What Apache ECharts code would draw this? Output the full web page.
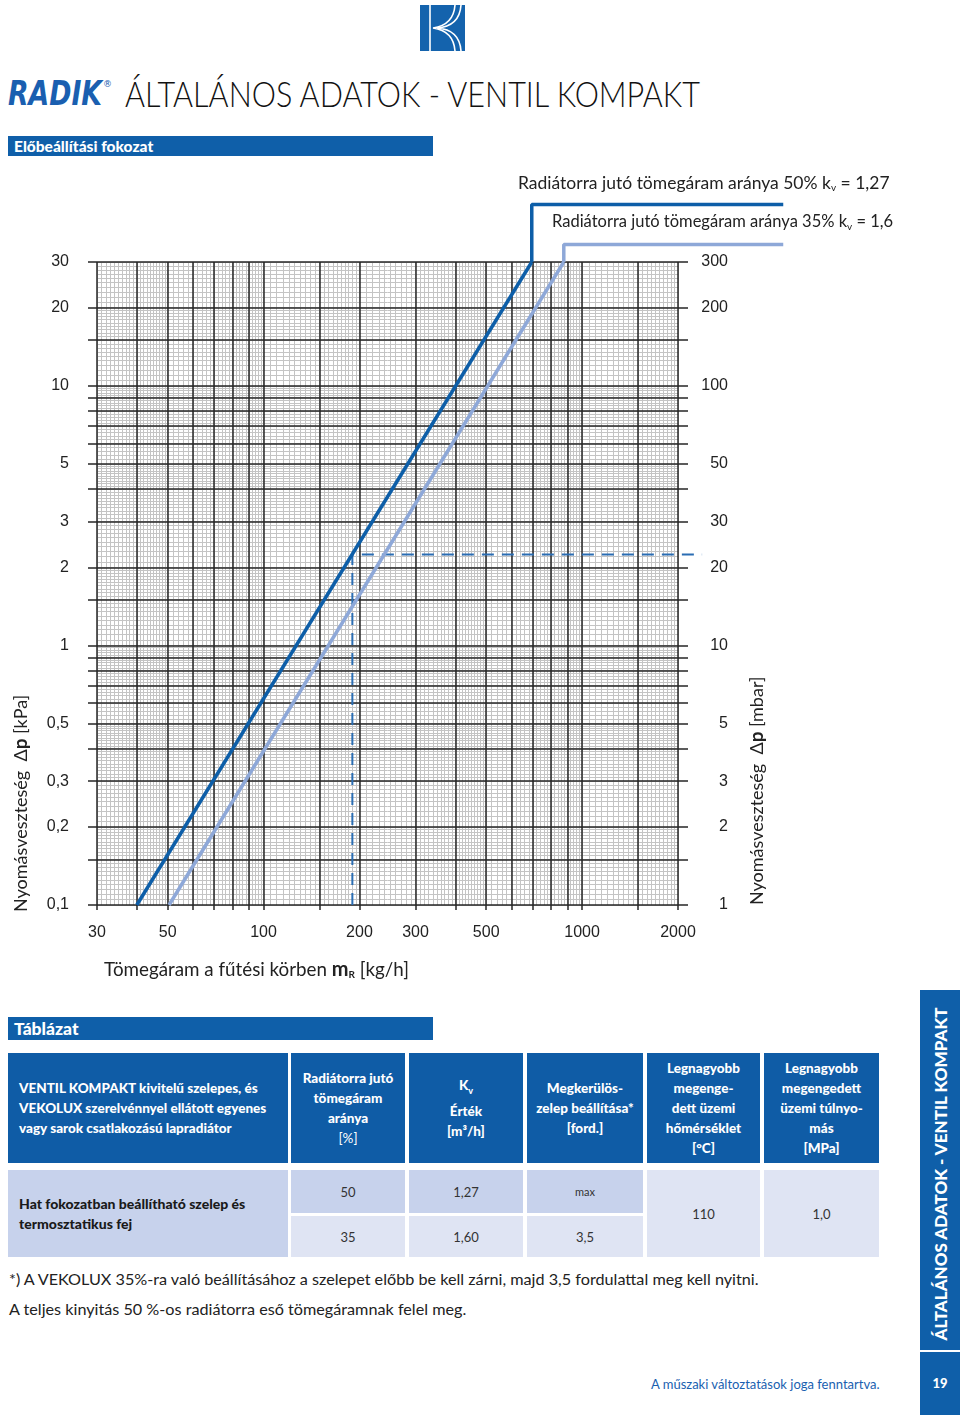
<!DOCTYPE html>
<html>
<head>
<meta charset="utf-8">
<script src="https://cdn.jsdelivr.net/npm/echarts@6.0.0/dist/echarts.min.js"></script>
<style>
  body { margin: 0; width: 960px; height: 1415px; position: relative; background: #fff; overflow: hidden;
         font-family: Lato, "Noto Sans", sans-serif; color: #222; }
  .abs { position: absolute; }
  #chart { position: absolute; left: 0; top: 0; width: 960px; height: 1000px; }
  .bar { background: #0f5fa9; color: #fff; font-weight: 900; }
  .hd { background: #0f5ca6; color: #fff; font-weight: 900; font-size: 13.5px; line-height: 20px;
        display: flex; flex-direction: column; justify-content: center; text-align: center; }
  .bd { display: flex; flex-direction: column; justify-content: center; text-align: center; font-size: 13px; color: #333; }
  .dk { background: #c7d2ec; }
  .lt { background: #dfe4f3; }
</style>
</head>
<body>
<!-- logo -->
<svg class="abs" style="left:420px;top:5px" width="45" height="46" viewBox="0 0 45 46">
  <rect x="0" y="0" width="45" height="46" fill="#1463ad"/>
  <line x1="10" y1="0" x2="10" y2="46" stroke="#fff" stroke-width="1.6"/>
  <path d="M35 0 C34 14 27 21 13 23 C27 25 34 32 35 46" fill="none" stroke="#fff" stroke-width="1.6"/>
  <path d="M41 0 C40 15 31 22 17 23 C31 24 40 31 41 46" fill="none" stroke="#fff" stroke-width="1.6"/>
</svg>
<svg class="abs" style="left:0;top:60px" width="960" height="60">
  <text x="8" y="45" textLength="94" lengthAdjust="spacingAndGlyphs" font-family="DejaVu Sans" font-weight="bold" font-style="italic" font-size="34" fill="#1a5fb0">RADIK</text>
  <text x="103" y="27" font-family="DejaVu Sans" font-size="9" fill="#1a5fb0">®</text>
  <text x="125" y="47" textLength="575" lengthAdjust="spacingAndGlyphs" font-family="Lato" font-weight="300" font-size="36" fill="#111">ÁLTALÁNOS ADATOK - VENTIL KOMPAKT</text>
</svg>
<div class="abs bar" style="left:8px;top:136px;width:425px;height:20px;font-size:15.5px;line-height:20px;padding-left:6px;box-sizing:border-box">Előbeállítási fokozat</div>

<div id="chart"></div>

<div class="abs bar" style="left:8px;top:1017px;width:425px;height:23px;font-size:17.5px;line-height:23px;padding-left:6px;box-sizing:border-box">Táblázat</div>

<!-- table header -->
<div class="abs hd" style="left:8px;top:1053px;width:280px;height:110px;text-align:left;padding-left:11px;box-sizing:border-box">
  <div>VENTIL KOMPAKT kivitelű szelepes, és</div><div>VEKOLUX szerelvénnyel ellátott egyenes</div><div>vagy sarok csatlakozású lapradiátor</div></div>
<div class="abs hd" style="left:291px;top:1053px;width:114px;height:110px">
  <div>Radiátorra jutó</div><div>tömegáram</div><div>aránya</div><div style="font-weight:normal">[%]</div></div>
<div class="abs hd" style="left:409px;top:1053px;width:114px;height:110px">
  <div>K<sub style="font-size:9px">v</sub></div><div>Érték</div><div>[m³/h]</div></div>
<div class="abs hd" style="left:527px;top:1053px;width:116px;height:110px">
  <div>Megkerülös-</div><div>zelep beállítása*</div><div>[ford.]</div></div>
<div class="abs hd" style="left:647px;top:1053px;width:113px;height:110px">
  <div>Legnagyobb</div><div>megenge-</div><div>dett üzemi</div><div>hőmérséklet</div><div>[°C]</div></div>
<div class="abs hd" style="left:764px;top:1053px;width:115px;height:110px">
  <div>Legnagyobb</div><div>megengedett</div><div>üzemi túlnyo-</div><div>más</div><div>[MPa]</div></div>
<!-- table body -->
<div class="abs bd dk" style="left:8px;top:1170px;width:280px;height:87px;text-align:left;padding-left:11px;box-sizing:border-box;font-weight:900;font-size:14px;color:#1a1a1a;line-height:20px">
  <div>Hat fokozatban beállítható szelep és</div><div>termosztatikus fej</div></div>
<div class="abs bd dk" style="left:291px;top:1170px;width:114px;height:43px">50</div>
<div class="abs bd dk" style="left:409px;top:1170px;width:114px;height:43px">1,27</div>
<div class="abs bd dk" style="left:527px;top:1170px;width:116px;height:43px;font-size:11px">max</div>
<div class="abs bd lt" style="left:291px;top:1216px;width:114px;height:41px">35</div>
<div class="abs bd lt" style="left:409px;top:1216px;width:114px;height:41px">1,60</div>
<div class="abs bd lt" style="left:527px;top:1216px;width:116px;height:41px">3,5</div>
<div class="abs bd lt" style="left:647px;top:1170px;width:113px;height:87px">110</div>
<div class="abs bd lt" style="left:764px;top:1170px;width:115px;height:87px">1,0</div>

<div class="abs" style="left:9px;top:1269px;font-size:16.2px;white-space:nowrap">*) A VEKOLUX 35%-ra való beállításához a szelepet előbb be kell zárni, majd 3,5 fordulattal meg kell nyitni.</div>
<div class="abs" style="left:9px;top:1299px;font-size:16.2px;white-space:nowrap">A teljes kinyitás 50 %-os radiátorra eső tömegáramnak felel meg.</div>

<!-- side banner -->
<div class="abs" style="left:920px;top:990px;width:40px;height:360px;background:#0f5fa9"></div>
<div class="abs" style="left:940px;top:1174px;width:0;height:0">
  <div style="position:absolute;left:0;top:0;transform:translate(-50%,-50%) rotate(-90deg);white-space:nowrap;color:#fff;font-weight:900;font-size:17px">ÁLTALÁNOS ADATOK - VENTIL KOMPAKT</div></div>
<div class="abs" style="left:920px;top:1352px;width:40px;height:63px;background:#0f5fa9;color:#fff;font-weight:900;font-size:13px;text-align:center;line-height:63px">19</div>
<div class="abs" style="left:651px;top:1376px;font-size:13px;color:#1a5fb0;white-space:nowrap">A műszaki változtatások joga fenntartva.</div>

<script>
// tömegáram [kg/h] grid and labels
var xMajor = [30, 40, 50, 60, 70, 80, 90, 100, 150, 200, 300, 400, 500, 600, 700, 800, 900, 1000, 1500, 2000];
var xLabels = [30, 50, 100, 200, 300, 500, 1000, 2000];
// nyomásveszteség [kPa]
var yMajor = [0.1, 0.15, 0.2, 0.3, 0.4, 0.5, 0.6, 0.7, 0.8, 0.9, 1, 1.5, 2, 3, 4, 5, 6, 7, 8, 9, 10, 15, 20, 30];
var yLabels = [0.1, 0.2, 0.3, 0.5, 1, 2, 3, 5, 10, 20, 30];
// nyomásveszteség [mbar]
var yMajorMbar = [1, 1.5, 2, 3, 4, 5, 6, 7, 8, 9, 10, 15, 20, 30, 40, 50, 60, 70, 80, 90, 100, 150, 200, 300];
var yLabelsMbar = [1, 2, 3, 5, 10, 20, 30, 50, 100, 200, 300];

// curves: 50% kv=1,27 and 35% kv=1,6
var flow50 = [40, 695];
var dp50 = [0.1, 30];
var flow35 = [50.5, 876];
var dp35 = [0.1, 30];
// leader lines to the captions (run past the paper grid)
var lead50 = [[695, 30], [695, 50], [4280, 50]];
var lead35 = [[876, 30], [876, 35], [4280, 35]];
// reading example (dashed)
var example = [[190, 0.1], [190, 2.24], [2380, 2.24]];

// fine millimetre-like grid lines per decade
function fine(decades, lo, hi) {
  var out = [];
  decades.forEach(function (d) {
    var steps = [[1, 2, 0.05], [2, 5, 0.1], [5, 10, 0.2]];
    steps.forEach(function (s) {
      for (var v = s[0]; v < s[1] - 1e-9; v += s[2]) {
        var val = Math.round(v * d * 10000) / 10000;
        if (val >= lo && val <= hi) out.push(val);
      }
    });
  });
  return out;
}
var xFine = fine([10, 100, 1000], 30, 2000);
var yFine = fine([0.1, 1, 10], 0.1, 30);

// plot box and the same scale extended so lines can leave the paper grid
var G = { left: 97, top: 262, width: 581, height: 643 };
var pxPerDecX = G.width / Math.log10(2000 / 30);
var pxPerDecY = G.height / Math.log10(30 / 0.1);
var wide = { left: G.left, width: pxPerDecX * Math.log10(5000 / 30),
             top: G.top + G.height - pxPerDecY * 3, height: pxPerDecY * 3 };

var dark = '#262626';
var light = '#c4c4c4';
var tickFont = { fontFamily: 'Liberation Sans', fontSize: 16, color: '#222' };
var sub = { fontFamily: 'Lato', fontSize: 10, fill: '#222', verticalAlign: 'bottom', padding: [10, 0, 0, 0] };
var hidden = { axisLine: { show: false }, axisLabel: { show: false }, axisTick: { show: false }, splitLine: { show: false } };

var chart = echarts.init(document.getElementById('chart'));
chart.setOption({
  animation: false,
  grid: [G, wide],
  xAxis: [
    { type: 'log', min: 30, max: 2000, z: 0, position: 'bottom',
      axisLine: { show: false }, axisLabel: { show: false },
      axisTick: { show: false, customValues: xFine },
      splitLine: { show: true, lineStyle: { color: light, width: 1 } } },
    { type: 'log', min: 30, max: 2000, z: 1, position: 'bottom',
      axisLine: { show: false },
      axisTick: { show: true, length: 5, customValues: xMajor, lineStyle: { color: dark, width: 1.5 } },
      axisLabel: Object.assign({ customValues: xLabels, margin: 20, formatter: function (v) { return String(+v); } }, tickFont),
      splitLine: { show: true, lineStyle: { color: dark, width: 1.5 } } },
    Object.assign({ type: 'log', min: 30, max: 5000, gridIndex: 1 }, hidden)
  ],
  yAxis: [
    { type: 'log', min: 0.1, max: 30, z: 0,
      axisLine: { show: false }, axisLabel: { show: false },
      axisTick: { show: false, customValues: yFine },
      splitLine: { show: true, lineStyle: { color: light, width: 1 } } },
    { type: 'log', min: 0.1, max: 30, z: 1, position: 'left',
      axisLine: { show: false },
      axisTick: { show: true, length: 9, customValues: yMajor, lineStyle: { color: dark, width: 1.5 } },
      axisLabel: Object.assign({ customValues: yLabels, margin: 28, formatter: function (v) { return String(+v).replace('.', ','); } }, tickFont),
      splitLine: { show: true, lineStyle: { color: dark, width: 1.5 } } },
    { type: 'log', min: 1, max: 300, z: 1, position: 'right',
      axisLine: { show: false },
      axisTick: { show: true, length: 10, customValues: yMajorMbar, lineStyle: { color: dark, width: 1.5 } },
      axisLabel: Object.assign({ customValues: yLabelsMbar, margin: 50, align: 'right', formatter: function (v) { return String(+v); } }, tickFont),
      splitLine: { show: false } },
    Object.assign({ type: 'log', min: 0.1, max: 100, gridIndex: 1 }, hidden)
  ],
  graphic: [
    { type: 'text', x: 518, y: 183, style: { text: '{n|Radiátorra jutó tömegáram aránya 50% k}{s|v}{n| = 1,27}',
        textVerticalAlign: 'middle', rich: { n: { fontFamily: 'Lato', fontSize: 17.5, fill: '#222' }, s: sub } } },
    { type: 'text', x: 552, y: 222, style: { text: '{n|Radiátorra jutó tömegáram aránya 35% k}{s|v}{n| = 1,6}',
        textVerticalAlign: 'middle', rich: { n: { fontFamily: 'Lato', fontSize: 16.5, fill: '#222' }, s: sub } } },
    { type: 'text', x: 104, y: 970, style: { text: '{n|Tömegáram a fűtési körben }{b|m}{s|R}{n| [kg/h]}',
        textVerticalAlign: 'middle', rich: { n: { fontFamily: 'Lato', fontSize: 18.8, fill: '#222' }, b: { fontFamily: 'Lato', fontSize: 20, fontWeight: 'bold', fill: '#222' }, s: { fontFamily: 'Lato', fontSize: 10, fontWeight: 'bold', fill: '#222', verticalAlign: 'bottom', padding: [10, 0, 0, 0] } } } },
    { type: 'text', x: 21, y: 912, rotation: Math.PI / 2, style: { text: '{n|Nyomásveszteség  Δ}{b|p}{n| [kPa]}',
        textVerticalAlign: 'middle', rich: { n: { fontFamily: 'Lato', fontSize: 18, fill: '#222' }, b: { fontFamily: 'Lato', fontSize: 19, fontWeight: 'bold', fill: '#222' } } } },
    { type: 'text', x: 757, y: 905, rotation: Math.PI / 2, style: { text: '{n|Nyomásveszteség  Δ}{b|p}{n| [mbar]}',
        textVerticalAlign: 'middle', rich: { n: { fontFamily: 'Lato', fontSize: 18, fill: '#222' }, b: { fontFamily: 'Lato', fontSize: 19, fontWeight: 'bold', fill: '#222' } } } }
  ],
  series: [
    { name: '50%', type: 'line', xAxisIndex: 2, yAxisIndex: 3, symbol: 'none', z: 5,
      data: flow50.map(function (f, i) { return [f, dp50[i]]; }),
      lineStyle: { color: '#0d5ea8', width: 3.5 } },
    { name: '35%', type: 'line', xAxisIndex: 2, yAxisIndex: 3, symbol: 'none', z: 5,
      data: flow35.map(function (f, i) { return [f, dp35[i]]; }),
      lineStyle: { color: '#8ea8d8', width: 3.5 } },
    { name: 'lead50', type: 'line', xAxisIndex: 2, yAxisIndex: 3, symbol: 'none', z: 5,
      data: lead50, lineStyle: { color: '#0d5ea8', width: 3.5 } },
    { name: 'lead35', type: 'line', xAxisIndex: 2, yAxisIndex: 3, symbol: 'none', z: 5,
      data: lead35, lineStyle: { color: '#8ea8d8', width: 3.5 } },
    { name: 'example', type: 'line', xAxisIndex: 2, yAxisIndex: 3, symbol: 'none', z: 4,
      data: example, lineStyle: { color: '#2a6db3', width: 2, type: [12, 8] } }
  ]
});
</script>
</body>
</html>
